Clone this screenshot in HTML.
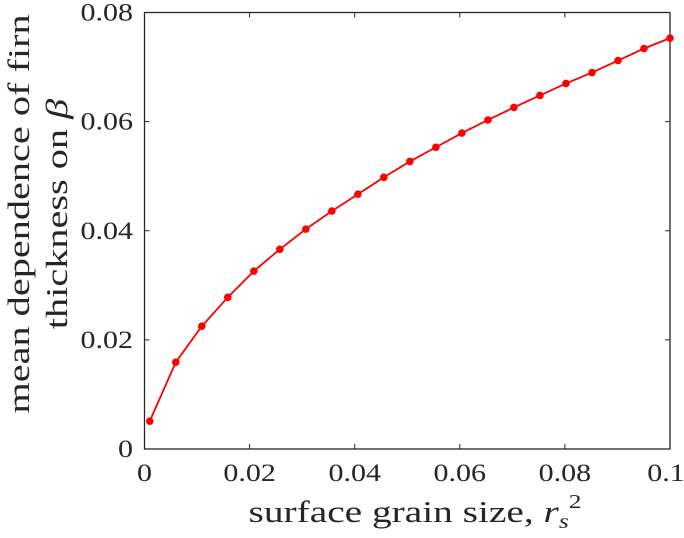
<!DOCTYPE html>
<html><head><meta charset="utf-8"><style>
body{margin:0;background:#fff}
svg text{font-family:"Liberation Serif",serif;fill:#262626}
</style></head><body>
<svg id="chart" width="684" height="533" xmlns="http://www.w3.org/2000/svg">
<g id="axes"></g>
<g id="series"></g>
<text transform="translate(415,522) scale(1.27,1)" font-size="31" text-anchor="middle">surface grain size, <tspan font-style="italic">r</tspan><tspan font-style="italic" font-size="20" dy="6">s</tspan><tspan font-size="20" dy="-20">2</tspan></text>
<text transform="translate(29,214) rotate(-90) scale(1.3,1)" font-size="31" text-anchor="middle">mean dependence of firn</text>
<text transform="translate(67,214) rotate(-90) scale(1.3,1)" font-size="31" text-anchor="middle">thickness on <tspan font-style="italic">β</tspan></text>
</svg>
<script>
const xValues=[0.001,0.00595,0.0109,0.01585,0.0208,0.02575,0.0307,0.03565,0.0406,0.04555,0.0505,0.05545,0.0604,0.06535,0.0703,0.07525,0.0802,0.08515,0.0901,0.09505,0.1];
const yValues=[0.0051,0.0159,0.0225,0.0278,0.0326,0.0366,0.0403,0.0436,0.0467,0.0498,0.0527,0.0553,0.0579,0.0603,0.0626,0.0648,0.0670,0.0690,0.0712,0.0734,0.0753];
const xTicks=[0,0.02,0.04,0.06,0.08,0.1];
const xTickLabels=["0","0.02","0.04","0.06","0.08","0.1"];
const yTicks=[0,0.02,0.04,0.06,0.08];
const yTickLabels=["0","0.02","0.04","0.06","0.08"];
const L=144.5,R=670,T=12.5,B=449;
const sx=v=>L+(R-L)*v/0.1, sy=v=>B-(B-T)*v/0.08;
const NS="http://www.w3.org/2000/svg";
const ax=document.getElementById('axes'), se=document.getElementById('series');
function mk(t,a,p){const e=document.createElementNS(NS,t);for(const k in a)e.setAttribute(k,a[k]);p.appendChild(e);return e;}
const box=mk('rect',{x:L,y:T,width:R-L,height:B-T,fill:'none',stroke:'#262626','stroke-width':1.3},ax);


xTicks.forEach((v,i)=>{const x=sx(v);
const t1=mk('line',{x1:x,x2:x,y1:B,y2:B-5,stroke:'#262626'},ax);


const t2=mk('line',{x1:x,x2:x,y1:T,y2:T+5,stroke:'#262626'},ax);


const tx=mk('text',{transform:`translate(${i===xTicks.length-1?x-4:x},481) scale(1.2,1)`,'font-size':25,'text-anchor':'middle'},ax);tx.textContent=xTickLabels[i];

});
yTicks.forEach((v,i)=>{const y=sy(v);
const t1=mk('line',{x1:L,x2:L+5,y1:y,y2:y,stroke:'#262626'},ax);


const t2=mk('line',{x1:R,x2:R-5,y1:y,y2:y,stroke:'#262626'},ax);


const tx=mk('text',{transform:`translate(133,${y+8}) scale(1.2,1)`,'font-size':25,'text-anchor':'end'},ax);tx.textContent=yTickLabels[i];

});
const pl=mk('polyline',{points:xValues.map((x,i)=>sx(x)+','+sy(yValues[i])).join(' '),fill:'none',stroke:'#ff0000','stroke-width':1.8},se);


xValues.forEach((x,i)=>{const c=mk('circle',{cx:sx(x),cy:sy(yValues[i]),r:3.8,fill:'#ff0000'},se);

});
</script>
</body></html>
